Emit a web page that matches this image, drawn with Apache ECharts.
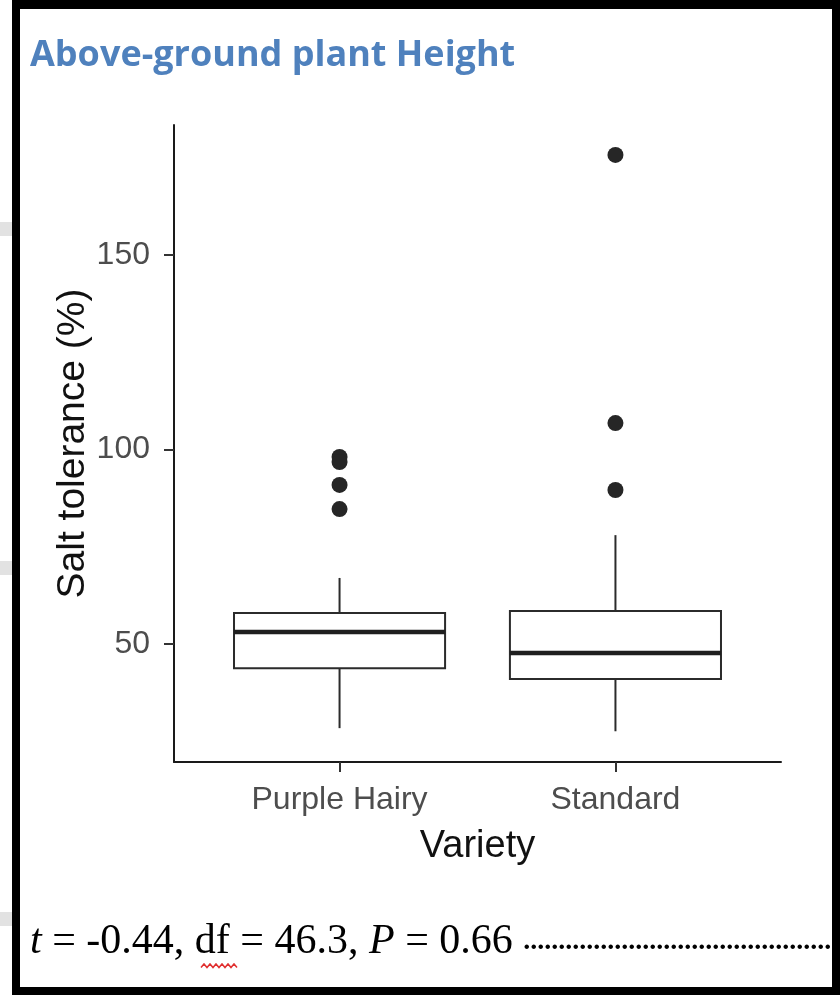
<!DOCTYPE html>
<html>
<head>
<meta charset="utf-8">
<script src="https://cdn.jsdelivr.net/npm/echarts@6/dist/echarts.min.js"></script>
<style>
html,body{margin:0;padding:0;background:#fff;}
#chart{width:840px;height:995px;}
</style>
</head>
<body>
<div id="chart"></div>
<script>
// ---- data ----
const categories = ['Purple Hairy', 'Standard'];
const whiskerLow  = [28.4, 27.6];
const q1          = [43.8, 41.0];
const median      = [53.1, 47.7];
const q3          = [58.0, 58.5];
const whiskerHigh = [67.0, 78.0];
const outliersPurpleHairy = [98.1, 96.8, 90.9, 84.7];
const outliersStandard    = [175.7, 106.8, 89.6];
const yTicks = [50, 100, 150];
const titleText = 'Above-ground plant Height';
const xTitle = 'Variety';
const yTitle = 'Salt tolerance (%)';

// ---- build series data ----
const boxData = categories.map((c, i) => [i + 1, whiskerLow[i], q1[i], median[i], q3[i], whiskerHigh[i]]);
const outlierData = []
  .concat(outliersPurpleHairy.map(v => [1, v]))
  .concat(outliersStandard.map(v => [2, v]));
const xTickValues = categories.map((c, i) => i + 1);

const chart = echarts.init(document.getElementById('chart'), null, {renderer: 'canvas'});

const BOX_W = 0.765;
function renderBox(params, api) {
  const x = api.value(0);
  const lo = api.coord([x, api.value(1)]);
  const b1 = api.coord([x, api.value(2)]);
  const md = api.coord([x, api.value(3)]);
  const b3 = api.coord([x, api.value(4)]);
  const hi = api.coord([x, api.value(5)]);
  const half = api.size([BOX_W, 0])[0] / 2;
  const stroke = {stroke: '#2b2b2b', lineWidth: 2, fill: null};
  return {
    type: 'group',
    children: [
      {type: 'line', shape: {x1: hi[0], y1: hi[1], x2: b3[0], y2: b3[1]}, style: stroke},
      {type: 'line', shape: {x1: b1[0], y1: b1[1], x2: lo[0], y2: lo[1]}, style: stroke},
      {type: 'rect', shape: {x: b3[0] - half, y: b3[1], width: half * 2, height: b1[1] - b3[1]},
       style: {stroke: '#2b2b2b', lineWidth: 2, fill: '#fff'}},
      {type: 'line', shape: {x1: md[0] - half, y1: md[1], x2: md[0] + half, y2: md[1]},
       style: {stroke: '#1f1f1f', lineWidth: 4.5}}
    ]
  };
}

// red wavy underline points
const wave = [];
for (let k = 0; k <= 12; k++) wave.push([201 + k * 3, 966 + (k % 2 ? -2 : 1.5)]);

const option = {
  animation: false,
  backgroundColor: '#fff',
  title: {
    text: titleText,
    left: 30, top: 38, padding: 0,
    textStyle: {fontFamily: 'Open Sans', fontWeight: 'bold', fontSize: 36, color: '#4f81bd'}
  },
  grid: {left: 174, right: 59, top: 125, bottom: 233, containLabel: false},
  xAxis: {
    type: 'value', min: 0.4, max: 2.6,
    axisLine: {show: true, onZero: false, lineStyle: {color: '#1a1a1a', width: 2}},
    axisTick: {show: true, customValues: xTickValues, length: 10, lineStyle: {color: '#333', width: 2}},
    axisLabel: {show: true, customValues: xTickValues, margin: 22,
      formatter: v => categories[Math.round(v) - 1] || '',
      fontFamily: 'Liberation Sans', fontSize: 32, color: '#4d4d4d'},
    splitLine: {show: false},
    name: xTitle, nameLocation: 'middle', nameGap: 66, nameMoveOverlap: false,
    nameTextStyle: {fontFamily: 'Liberation Sans', fontSize: 38, color: '#111'}
  },
  yAxis: {
    type: 'value', min: 19.7, max: 183.4,
    axisLine: {show: true, onZero: false, lineStyle: {color: '#1a1a1a', width: 2}},
    axisTick: {show: true, customValues: yTicks, length: 10, lineStyle: {color: '#333', width: 2}},
    axisLabel: {show: true, customValues: yTicks, margin: 24,
      fontFamily: 'Liberation Sans', fontSize: 32, color: '#4d4d4d'},
    splitLine: {show: false},
    name: yTitle, nameLocation: 'middle', nameGap: 81, nameMoveOverlap: false,
    nameTextStyle: {fontFamily: 'Liberation Sans', fontSize: 39, color: '#111'}
  },
  series: [
    {type: 'custom', renderItem: renderBox, data: boxData, silent: true, z: 2,
     encode: {x: 0, y: [1, 2, 3, 4, 5]}},
    {type: 'scatter', data: outlierData, symbol: 'circle', symbolSize: 16, silent: true, z: 3,
     itemStyle: {color: '#262626', opacity: 1}}
  ],
  graphic: [
    // left strip grey bars
    {type: 'rect', shape: {x: 0, y: 222, width: 12, height: 14}, style: {fill: '#e2e2e2'}},
    {type: 'rect', shape: {x: 0, y: 561, width: 12, height: 14}, style: {fill: '#e2e2e2'}},
    {type: 'rect', shape: {x: 0, y: 912, width: 12, height: 14}, style: {fill: '#e2e2e2'}},
    // bottom statistics text
    {type: 'text', x: 30, y: 921, z: 10,
     style: {
       text: '{i|t} = -0.44, df = 46.3, {i|P} = 0.66 {d|' + '.'.repeat(60) + '}',
       fontFamily: 'Liberation Serif', fontSize: 42, fill: '#000',
       rich: {
         i: {fontFamily: 'Liberation Serif', fontSize: 42, fontStyle: 'italic', fill: '#000'},
         d: {fontFamily: 'Liberation Serif', fontSize: 28, fontWeight: 'bold', fill: '#000'}
       }
     }},
    {type: 'polyline', z: 11, shape: {points: wave}, style: {stroke: '#e03030', lineWidth: 1.5, fill: null}},
    // frame
    {type: 'rect', z: 20, shape: {x: 12, y: 0, width: 8, height: 995}, style: {fill: '#000'}},
    {type: 'rect', z: 20, shape: {x: 12, y: 0, width: 828, height: 9}, style: {fill: '#000'}},
    {type: 'rect', z: 20, shape: {x: 832, y: 0, width: 8, height: 995}, style: {fill: '#000'}},
    {type: 'rect', z: 20, shape: {x: 12, y: 987, width: 828, height: 8}, style: {fill: '#000'}}
  ]
};
chart.setOption(option);
</script>
</body>
</html>
